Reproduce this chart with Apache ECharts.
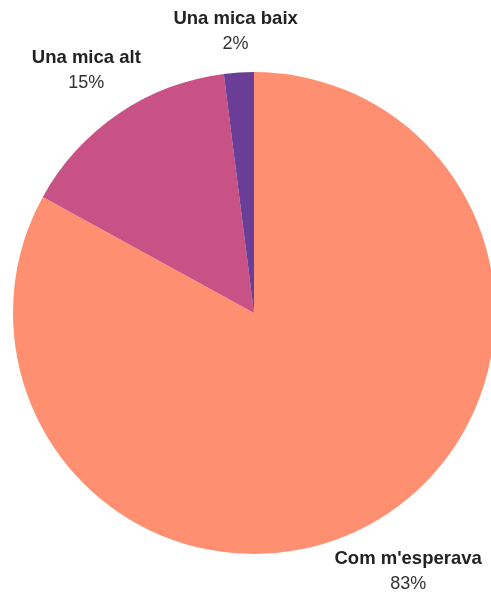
<!DOCTYPE html>
<html>
<head>
<meta charset="utf-8">
<script src="https://cdn.jsdelivr.net/npm/echarts@6/dist/echarts.min.js"></script>
<style>html,body{margin:0;padding:0;background:#fff;}#c{width:491px;height:593px;}</style>
</head>
<body>
<div id="c"></div>
<script>
const categories = ["Com m'esperava", "Una mica alt", "Una mica baix"];
const values = [83, 15, 2];
const colors = ['#fe9071', '#c85285', '#6a3d97'];

const labelShift = {0: [0, 6], 1: [2, 0], 2: [5, 11]};

const chart = echarts.init(document.getElementById('c'), null, {renderer: 'canvas'});
chart.setOption({
  animation: false,
  backgroundColor: '#ffffff',
  series: [{
    type: 'pie',
    center: [254, 313],
    radius: [0, 241],
    startAngle: 90,
    clockwise: true,
    percentPrecision: 0,
    avoidLabelOverlap: false,
    data: categories.map((c, i) => ({name: c, value: values[i], itemStyle: {color: colors[i]}})),
    itemStyle: {borderWidth: 0},
    label: {
      show: true,
      position: 'outside',
      formatter: '{n|{b}}\n{p|{d}%}',
      rich: {
        n: {fontFamily: 'Liberation Sans, Arial, sans-serif', fontWeight: 'bold', fontSize: 18.5, color: '#222', lineHeight: 25, align: 'center'},
        p: {fontFamily: 'Liberation Sans, Arial, sans-serif', fontSize: 18, color: '#333', lineHeight: 25, align: 'center'}
      }
    },
    labelLine: {show: false, length: 52, length2: 0},
    labelLayout: function (params) {
      const s = labelShift[params.dataIndex] || [0, 0];
      return {align: 'center', verticalAlign: 'middle', dx: s[0], dy: s[1] + (params.dataIndex === 2 ? 0 : 0)};
    }
  }]
});
</script>
</body>
</html>
